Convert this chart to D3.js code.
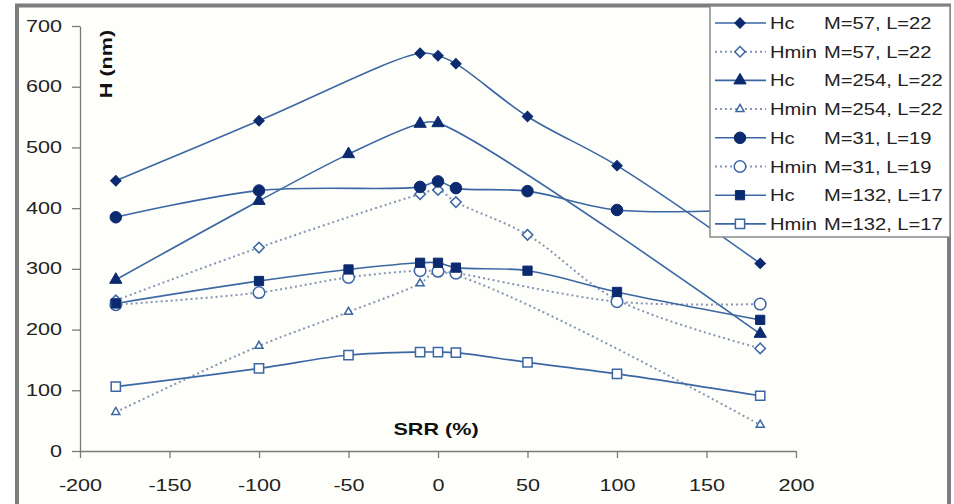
<!DOCTYPE html>
<html>
<head>
<meta charset="utf-8">
<script src="https://cdn.jsdelivr.net/npm/d3@7"></script>
<style>
  body { margin: 0; background: #fff; }
  svg { display: block; font-family: "Liberation Sans", Arial, sans-serif; }
</style>
</head>
<body>
<svg id="chart" width="954" height="504"></svg>
<script>
// SRR positions shared by every series (null = no point there)
const srr = [-180, -100, -50, -10, 0, 10, 50, 100, 180]

const hcM57    = [445, 544, null, 655, 651, 638, 551, 470, 309]
const hminM57  = [248, 335, null, 423, 430, 410, 356, 249, 169]
const hcM254   = [282, 412, 489, 539, 540, null, null, null, 193]
const hminM254 = [64, 173, 229, 276, 295, null, null, null, 43]
const hcM31    = [385, 429, null, 435, 444, 433, 428, 397, 398]
const hminM31  = [241, 261, 286, 297, 296, 293, null, 246, 242]
const hcM132   = [243, 280, 299, 310, 310, 302, 297, 262, 216]
const hminM132 = [106, 136, 158, 163, 163, 162, 146, 127, 91]

const xTicks = [-200, -150, -100, -50, 0, 50, 100, 150, 200]
const yTicks = [0, 100, 200, 300, 400, 500, 600, 700]

const series = [
  { name: 'Hc', label: 'M=57, L=22', values: hcM57, marker: 'diamond', filled: true, dotted: false },
  { name: 'Hmin', label: 'M=57, L=22', values: hminM57, marker: 'diamond', filled: false, dotted: true },
  { name: 'Hc', label: 'M=254, L=22', values: hcM254, marker: 'triangle', filled: true, dotted: false },
  { name: 'Hmin', label: 'M=254, L=22', values: hminM254, marker: 'smalltri', filled: false, dotted: true },
  { name: 'Hc', label: 'M=31, L=19', values: hcM31, marker: 'circle', filled: true, dotted: false },
  { name: 'Hmin', label: 'M=31, L=19', values: hminM31, marker: 'circle', filled: false, dotted: true },
  { name: 'Hc', label: 'M=132, L=17', values: hcM132, marker: 'square', filled: true, dotted: false },
  { name: 'Hmin', label: 'M=132, L=17', values: hminM132, marker: 'square', filled: false, dotted: false }
]

const navy = '#0b2a6f'
const lineBlue = '#3b67a3'
const dotBlue = '#8796b4'
const axisGrey = '#7a7a7a'
const stretch = 1.35
const legendStretch = 1.26

const svg = d3.select('#chart')

svg.append('rect')
  .attr('x', 17).attr('y', 5.5).attr('width', 932).attr('height', 520)
  .attr('fill', '#fefefb').attr('stroke', '#7d7d7d').attr('stroke-width', 4)

const x = d3.scaleLinear().domain([-200, 200]).range([80, 796])
const y = d3.scaleLinear().domain([0, 700]).range([451, 26])

const xAxis = svg.append('g')
  .attr('transform', `translate(0,${y(0)})`)
  .call(d3.axisBottom(x).tickValues(xTicks).tickSize(7).tickSizeOuter(0).tickFormat(d => String(d)))
xAxis.selectAll('text')
  .attr('y', 40).attr('dy', 0)
  .attr('transform', `scale(${stretch},1)`)

const yAxis = svg.append('g')
  .attr('transform', `translate(${x(-200)},0)`)
  .call(d3.axisLeft(y).tickValues(yTicks).tickSize(8).tickSizeOuter(0).tickFormat(d => String(d)))
yAxis.selectAll('text')
  .attr('x', -18 / stretch)
  .attr('transform', `scale(${stretch},1)`)

svg.selectAll('.domain, .tick line').attr('stroke', axisGrey).attr('stroke-width', 1.3)
svg.selectAll('.tick text').attr('fill', '#222').style('font-size', '16px')

// axis titles
svg.append('text')
  .attr('transform', `translate(112,64) rotate(-90) scale(${stretch},1)`)
  .attr('text-anchor', 'middle')
  .style('font-size', '16px').style('font-weight', 'bold').attr('fill', '#111')
  .text('H (nm)')

svg.append('text')
  .attr('transform', `translate(436,435) scale(${stretch},1)`)
  .attr('text-anchor', 'middle')
  .style('font-size', '16px').style('font-weight', 'bold').attr('fill', '#111')
  .text('SRR (%)')

function symbolFor(kind) {
  if (kind === 'diamond') return { type: d3.symbolSquare, size: 55, rotate: 45 }
  if (kind === 'triangle') return { type: d3.symbolTriangle, size: 65, rotate: 0 }
  if (kind === 'smalltri') return { type: d3.symbolTriangle, size: 28, rotate: 0 }
  if (kind === 'circle') return { type: d3.symbolCircle, size: 105, rotate: 0 }
  return { type: d3.symbolSquare, size: 85, rotate: 0 }
}

function drawMarker(g, s, cx, cy) {
  const sym = symbolFor(s.marker)
  g.append('path')
    .attr('d', d3.symbol().type(sym.type).size(sym.size)())
    .attr('transform', `translate(${cx},${cy}) rotate(${sym.rotate})`)
    .attr('fill', s.filled ? navy : '#fff')
    .attr('stroke', s.filled ? navy : lineBlue)
    .attr('stroke-width', s.filled ? 1 : 1.5)
}

const line = d3.line()
  .defined(d => d.v !== null)
  .x(d => x(d.s))
  .y(d => y(d.v))
  .curve(d3.curveCatmullRom.alpha(0.5))

const plot = svg.append('g')

// lines first, then markers on top
series.forEach(s => {
  const pts = srr.map((v, i) => ({ s: v, v: s.values[i] })).filter(d => d.v !== null)
  plot.append('path')
    .datum(pts)
    .attr('d', line)
    .attr('fill', 'none')
    .attr('stroke', s.dotted ? dotBlue : lineBlue)
    .attr('stroke-width', s.dotted ? 2 : 1.6)
    .attr('stroke-dasharray', s.dotted ? '2,3' : null)
})

series.forEach(s => {
  const g = plot.append('g')
  srr.forEach((v, i) => {
    if (s.values[i] === null) return
    drawMarker(g, s, x(v), y(s.values[i]))
  })
})

// legend
const legend = svg.append('g')
legend.append('rect')
  .attr('x', 710).attr('y', 6).attr('width', 240).attr('height', 231)
  .attr('fill', '#fff').attr('stroke', '#8a8a8a').attr('stroke-width', 1.5)

series.forEach((s, i) => {
  const cy = 23 + i * 28.7
  const row = legend.append('g')
  row.append('line')
    .attr('x1', 715).attr('x2', 766).attr('y1', cy).attr('y2', cy)
    .attr('stroke', s.dotted ? dotBlue : lineBlue)
    .attr('stroke-width', s.dotted ? 2 : 1.6)
    .attr('stroke-dasharray', s.dotted ? '2,3' : null)
  drawMarker(row, s, 740, cy)
  row.append('text')
    .attr('transform', `translate(770,${cy + 6}) scale(${legendStretch},1)`)
    .style('font-size', '16px').attr('fill', '#222')
    .text(s.name)
  row.append('text')
    .attr('transform', `translate(824,${cy + 6}) scale(${legendStretch},1)`)
    .style('font-size', '16px').attr('fill', '#222')
    .text(s.label)
})
</script>
</body>
</html>
